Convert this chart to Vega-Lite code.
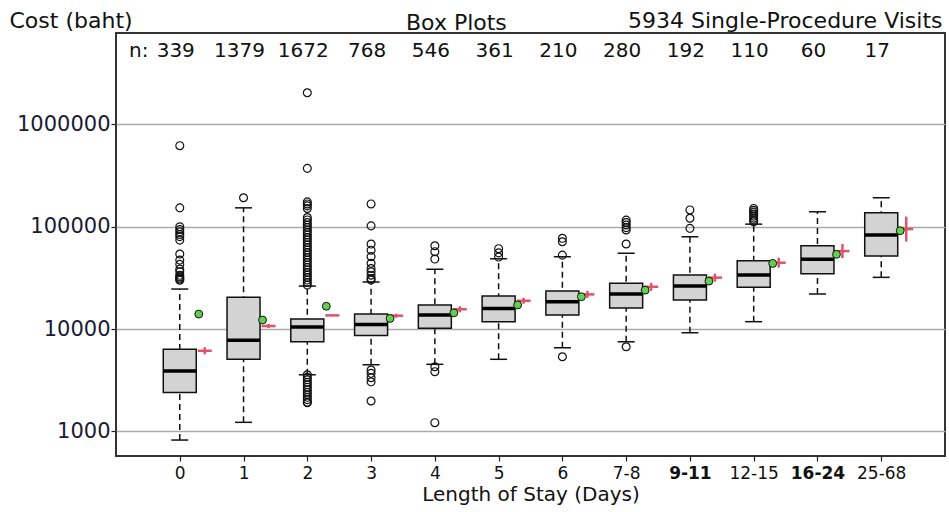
{
  "$schema": "https://vega.github.io/schema/vega-lite/v6.json",
  "width": 829,
  "height": 423,
  "autosize": {"type": "none"},
  "padding": {"left": 116, "top": 33, "right": 4, "bottom": 56},
  "background": "white",
  "config": {"view": {"stroke": "#333333", "strokeWidth": 2}, "font": "DejaVu Sans"},
  "title": {"text": "Box Plots", "anchor": "start", "frame": "group", "dx": 290, "dy": 43, "offset": 0, "font": "DejaVu Sans", "fontSize": 22, "fontWeight": "normal", "color": "#111111", "baseline": "alphabetic"},
  "datasets": {
    "stats": [
      {"cat": "0", "n": 339, "lo": 822, "q1": 2400, "med": 3880, "q3": 6330, "hi": 24600, "mean": 14000, "red": 6130, "redLo": 5665, "redHi": 6633},
      {"cat": "1", "n": 1379, "lo": 1225, "q1": 5060, "med": 7760, "q3": 20400, "hi": 153000, "mean": 12250, "red": 10700, "redLo": 10230, "redHi": 11190},
      {"cat": "2", "n": 1672, "lo": 3570, "q1": 7510, "med": 10480, "q3": 12540, "hi": 26300, "mean": 16700, "red": 13600, "redLo": 13300, "redHi": 13900},
      {"cat": "3", "n": 768, "lo": 4480, "q1": 8670, "med": 11100, "q3": 14000, "hi": 28900, "mean": 12700, "red": 13500, "redLo": 12900, "redHi": 14100},
      {"cat": "4", "n": 546, "lo": 4520, "q1": 10200, "med": 13700, "q3": 17200, "hi": 38400, "mean": 14400, "red": 15600, "redLo": 14580, "redHi": 16690},
      {"cat": "5", "n": 361, "lo": 5060, "q1": 11800, "med": 15900, "q3": 21000, "hi": 48600, "mean": 17200, "red": 18900, "redLo": 17660, "redHi": 20220},
      {"cat": "6", "n": 210, "lo": 6560, "q1": 13700, "med": 18500, "q3": 23500, "hi": 50900, "mean": 20700, "red": 21800, "redLo": 20150, "redHi": 23590},
      {"cat": "7-8", "n": 280, "lo": 7520, "q1": 16100, "med": 22000, "q3": 28000, "hi": 55000, "mean": 24000, "red": 25900, "redLo": 23680, "redHi": 28330},
      {"cat": "9-11", "n": 192, "lo": 9200, "q1": 19200, "med": 26300, "q3": 33700, "hi": 79800, "mean": 29400, "red": 31800, "redLo": 29070, "redHi": 34790},
      {"cat": "12-15", "n": 110, "lo": 11800, "q1": 25600, "med": 33700, "q3": 46500, "hi": 106000, "mean": 43800, "red": 44500, "redLo": 39770, "redHi": 49800},
      {"cat": "16-24", "n": 60, "lo": 22000, "q1": 34800, "med": 48000, "q3": 65200, "hi": 140000, "mean": 53700, "red": 57800, "redLo": 49360, "redHi": 67690},
      {"cat": "25-68", "n": 17, "lo": 32000, "q1": 51700, "med": 83000, "q3": 137000, "hi": 192000, "mean": 91400, "red": 94900, "redLo": 71620, "redHi": 125700}
    ],
    "outliers": [
      {"cat": "0", "cost": 620000}, {"cat": "0", "cost": 153000}, {"cat": "0", "cost": 100000}, {"cat": "0", "cost": 94000},
      {"cat": "0", "cost": 89000}, {"cat": "0", "cost": 84000}, {"cat": "0", "cost": 80000}, {"cat": "0", "cost": 74000},
      {"cat": "0", "cost": 54100}, {"cat": "0", "cost": 47200}, {"cat": "0", "cost": 42900}, {"cat": "0", "cost": 38500},
      {"cat": "0", "cost": 36300}, {"cat": "0", "cost": 33500}, {"cat": "0", "cost": 32400}, {"cat": "0", "cost": 31500},
      {"cat": "0", "cost": 30800}, {"cat": "0", "cost": 30000},
      {"cat": "1", "cost": 192000},
      {"cat": "2", "cost": 2040000}, {"cat": "2", "cost": 372000}, {"cat": "2", "cost": 175000}, {"cat": "2", "cost": 167000},
      {"cat": "2", "cost": 160000}, {"cat": "2", "cost": 151000}, {"cat": "2", "cost": 123000}, {"cat": "2", "cost": 116500},
      {"cat": "2", "cost": 110000}, {"cat": "2", "cost": 104000}, {"cat": "2", "cost": 98400}, {"cat": "2", "cost": 93000},
      {"cat": "2", "cost": 87900}, {"cat": "2", "cost": 83100}, {"cat": "2", "cost": 78500}, {"cat": "2", "cost": 74200},
      {"cat": "2", "cost": 70200}, {"cat": "2", "cost": 66300}, {"cat": "2", "cost": 62700}, {"cat": "2", "cost": 59300},
      {"cat": "2", "cost": 56000}, {"cat": "2", "cost": 52900}, {"cat": "2", "cost": 50000}, {"cat": "2", "cost": 47300},
      {"cat": "2", "cost": 44700}, {"cat": "2", "cost": 42300}, {"cat": "2", "cost": 40000}, {"cat": "2", "cost": 37800},
      {"cat": "2", "cost": 35700}, {"cat": "2", "cost": 33700}, {"cat": "2", "cost": 31900}, {"cat": "2", "cost": 30100},
      {"cat": "2", "cost": 28500}, {"cat": "2", "cost": 26900},
      {"cat": "2", "cost": 3570}, {"cat": "2", "cost": 3380}, {"cat": "2", "cost": 3190}, {"cat": "2", "cost": 3020},
      {"cat": "2", "cost": 2850}, {"cat": "2", "cost": 2700}, {"cat": "2", "cost": 2550}, {"cat": "2", "cost": 2410},
      {"cat": "2", "cost": 2280}, {"cat": "2", "cost": 2150}, {"cat": "2", "cost": 2040}, {"cat": "2", "cost": 1930},
      {"cat": "2", "cost": 1900},
      {"cat": "3", "cost": 167000}, {"cat": "3", "cost": 102000}, {"cat": "3", "cost": 67700}, {"cat": "3", "cost": 59000},
      {"cat": "3", "cost": 51000}, {"cat": "3", "cost": 43900}, {"cat": "3", "cost": 39000}, {"cat": "3", "cost": 36300},
      {"cat": "3", "cost": 33600}, {"cat": "3", "cost": 31200}, {"cat": "3", "cost": 30100}, {"cat": "3", "cost": 3970},
      {"cat": "3", "cost": 3690}, {"cat": "3", "cost": 3340}, {"cat": "3", "cost": 3050}, {"cat": "3", "cost": 1980},
      {"cat": "4", "cost": 65200}, {"cat": "4", "cost": 57000}, {"cat": "4", "cost": 48300}, {"cat": "4", "cost": 4280},
      {"cat": "4", "cost": 3830}, {"cat": "4", "cost": 1215},
      {"cat": "5", "cost": 61000}, {"cat": "5", "cost": 55500}, {"cat": "5", "cost": 50500},
      {"cat": "6", "cost": 77100}, {"cat": "6", "cost": 71300}, {"cat": "6", "cost": 52800}, {"cat": "6", "cost": 5360},
      {"cat": "7-8", "cost": 116000}, {"cat": "7-8", "cost": 110000}, {"cat": "7-8", "cost": 104000}, {"cat": "7-8", "cost": 98000},
      {"cat": "7-8", "cost": 93000}, {"cat": "7-8", "cost": 67800}, {"cat": "7-8", "cost": 6710},
      {"cat": "9-11", "cost": 146000}, {"cat": "9-11", "cost": 121000}, {"cat": "9-11", "cost": 96400},
      {"cat": "12-15", "cost": 151000}, {"cat": "12-15", "cost": 145000}, {"cat": "12-15", "cost": 139000}, {"cat": "12-15", "cost": 133000},
      {"cat": "12-15", "cost": 127000}, {"cat": "12-15", "cost": 121000}, {"cat": "12-15", "cost": 116000}, {"cat": "12-15", "cost": 112000}
    ],
    "nlabel": [{"cat": "0", "label": "n:"}]
  },
  "encoding": {
    "x": {
      "field": "cat", "type": "nominal",
      "sort": ["0", "1", "2", "3", "4", "5", "6", "7-8", "9-11", "12-15", "16-24", "25-68"],
      "scale": {"type": "point", "padding": 1, "domain": ["0", "1", "2", "3", "4", "5", "6", "7-8", "9-11", "12-15", "16-24", "25-68"]},
      "axis": {
        "title": "Length of Stay (Days)", "labelAngle": 0, "domain": false, "grid": false,
        "ticks": true, "tickSize": 5, "tickColor": "#222222", "tickWidth": 1.2,
        "labelFont": "DejaVu Sans", "labelFontSize": 17, "labelColor": "#111111", "labelPadding": 4, "labelOverlap": false,
        "labelFontWeight": {"condition": {"test": "datum.label === '9-11' || datum.label === '16-24'", "value": "bold"}, "value": "normal"},
        "titleFont": "DejaVu Sans", "titleFontSize": 20, "titleFontWeight": "normal", "titleColor": "#111111", "titlePadding": 3
      }
    }
  },
  "layer": [
    {
      "data": {"name": "stats"},
      "mark": {"type": "rule", "strokeDash": [6, 4], "strokeWidth": 1.5, "color": "#111111", "opacity": 1},
      "encoding": {
        "y": {
          "field": "lo", "type": "quantitative",
          "scale": {"type": "log", "domain": [574, 7830000], "nice": false, "zero": false},
          "axis": {
            "values": [1000, 10000, 100000, 1000000], "format": "d",
            "grid": true, "gridColor": "#ababab", "gridWidth": 1.6, "domain": false,
            "ticks": true, "tickSize": 5, "tickColor": "#222222", "tickWidth": 1.2,
            "labelFont": "DejaVu Sans", "labelFontSize": 21, "labelColor": "#1a1a33", "labelPadding": 1,
            "title": "Cost (baht)", "titleAngle": 0, "titleAlign": "left", "titleBaseline": "alphabetic",
            "titleX": -107, "titleY": -6, "titleFont": "DejaVu Sans", "titleFontSize": 22, "titleFontWeight": "normal", "titleColor": "#111111"
          }
        },
        "y2": {"field": "hi"}
      }
    },
    {
      "data": {"name": "stats"},
      "mark": {"type": "tick", "size": 17, "thickness": 1.5, "color": "#111111", "opacity": 1},
      "encoding": {"y": {"field": "lo", "type": "quantitative", "axis": null}}
    },
    {
      "data": {"name": "stats"},
      "mark": {"type": "tick", "size": 17, "thickness": 1.5, "color": "#111111", "opacity": 1},
      "encoding": {"y": {"field": "hi", "type": "quantitative", "axis": null}}
    },
    {
      "data": {"name": "stats"},
      "mark": {"type": "bar", "width": 33, "fill": "#d3d3d3", "stroke": "#111111", "strokeWidth": 1.5, "opacity": 1},
      "encoding": {"y": {"field": "q1", "type": "quantitative", "axis": null}, "y2": {"field": "q3"}}
    },
    {
      "data": {"name": "stats"},
      "mark": {"type": "tick", "size": 33, "thickness": 3.5, "color": "#000000", "opacity": 1},
      "encoding": {"y": {"field": "med", "type": "quantitative", "axis": null}}
    },
    {
      "data": {"name": "outliers"},
      "mark": {"type": "point", "shape": "circle", "size": 62, "filled": false, "stroke": "#111111", "strokeWidth": 1.2, "opacity": 1},
      "encoding": {"y": {"field": "cost", "type": "quantitative", "axis": null}}
    },
    {
      "data": {"name": "stats"},
      "mark": {"type": "rule", "xOffset": 25, "strokeWidth": 2.5, "color": "#DF536B", "opacity": 1},
      "encoding": {"y": {"field": "redLo", "type": "quantitative", "axis": null}, "y2": {"field": "redHi"}}
    },
    {
      "data": {"name": "stats"},
      "mark": {"type": "tick", "xOffset": 25, "size": 14, "thickness": 2.5, "color": "#DF536B", "opacity": 1},
      "encoding": {"y": {"field": "red", "type": "quantitative", "axis": null}}
    },
    {
      "data": {"name": "stats"},
      "mark": {"type": "point", "shape": "circle", "xOffset": 19, "size": 62, "filled": true, "fill": "#61D04F", "stroke": "#111111", "strokeWidth": 1, "opacity": 1},
      "encoding": {"y": {"field": "mean", "type": "quantitative", "axis": null}}
    },
    {
      "data": {"name": "stats"},
      "mark": {"type": "text", "dx": -4, "font": "DejaVu Sans", "fontSize": 20, "color": "#111111", "baseline": "alphabetic", "align": "center"},
      "encoding": {
        "y": {
          "datum": 4590000, "type": "quantitative",
          "axis": {
            "orient": "right", "labels": false, "ticks": false, "domain": false, "grid": false,
            "title": "5934 Single-Procedure Visits", "titleAngle": 0, "titleAlign": "right", "titleBaseline": "alphabetic",
            "titleX": -3, "titleY": -6, "titleFont": "DejaVu Sans", "titleFontSize": 22, "titleFontWeight": "normal", "titleColor": "#111111"
          }
        },
        "text": {"field": "n", "type": "quantitative"}
      }
    },
    {
      "data": {"name": "nlabel"},
      "mark": {"type": "text", "dx": -41, "font": "DejaVu Sans", "fontSize": 20, "color": "#111111", "baseline": "alphabetic", "align": "center"},
      "encoding": {
        "y": {"datum": 4590000, "type": "quantitative", "axis": null},
        "text": {"field": "label", "type": "nominal"}
      }
    }
  ],
  "resolve": {"axis": {"y": "independent"}}
}
